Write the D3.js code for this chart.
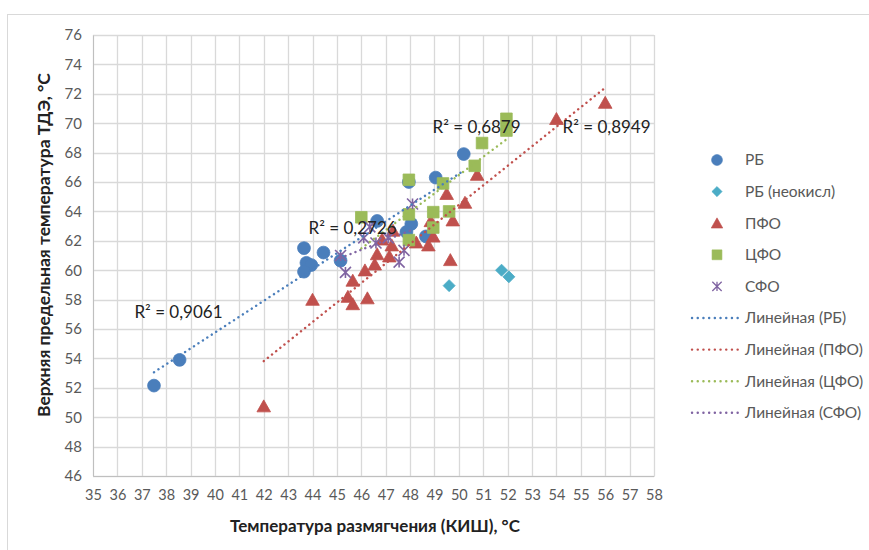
<!DOCTYPE html>
<html>
<head>
<meta charset="utf-8">
<script src="https://cdn.jsdelivr.net/npm/d3@7"></script>
<style>
  body { margin: 0; background: #fff; }
  svg text { font-family: Lato, "Open Sans", sans-serif; }
</style>
</head>
<body>
<svg id="chart" width="869" height="550"></svg>
<script>
// data
var seriesNames = ["РБ", "РБ (неокисл)", "ПФО", "ЦФО", "СФО"];

var rbX = [37.5, 38.55, 43.65, 43.75, 43.95, 43.65, 44.45, 45.15, 46.65, 47.95, 48.05, 47.85, 48.65, 49.05, 50.2];
var rbY = [52.15, 53.9, 61.5, 60.5, 60.35, 59.9, 61.2, 60.65, 63.35, 66.0, 63.15, 62.6, 62.3, 66.3, 67.9];

var rbnX = [49.6, 51.75, 52.05];
var rbnY = [58.95, 60.0, 59.55];

var pfoX = [42.0, 44.0, 45.45, 45.65, 45.65, 46.25, 46.15, 46.55, 46.65, 46.85, 47.15, 47.25, 47.3, 48.25, 48.75, 48.95, 48.85, 49.75, 49.65, 49.5, 50.25, 50.75, 54.0, 56.0];
var pfoY = [50.75, 58.0, 58.2, 57.7, 59.3, 58.1, 60.0, 60.4, 61.1, 62.1, 60.95, 61.7, 62.7, 61.9, 61.7, 62.3, 63.35, 63.4, 60.7, 65.2, 64.6, 66.5, 70.3, 71.4];

var cfoX = [46.0, 47.95, 47.95, 47.95, 48.95, 48.95, 49.35, 49.6, 50.65, 50.95, 51.95, 51.95];
var cfoY = [63.6, 66.15, 63.8, 62.05, 63.95, 62.9, 65.9, 64.0, 67.1, 68.65, 70.3, 69.5];

var sfoX = [45.15, 45.35, 46.1, 46.35, 46.6, 47.1, 47.55, 47.75, 48.1];
var sfoY = [61.0, 59.85, 62.2, 62.95, 61.85, 62.2, 60.55, 61.35, 64.5];

var trendNames = ["Линейная (РБ)", "Линейная (ПФО)", "Линейная (ЦФО)", "Линейная (СФО)"];
var r2Labels = ["R² = 0,9061", "R² = 0,8949", "R² = 0,6879", "R² = 0,2726"];

var xTicks = d3.range(35, 59, 1);
var yTicks = d3.range(46, 77, 2);

var xTitle = "Температура размягчения (КИШ), °С";
var yTitle = "Верхняя предельная температура ТДЭ, °С";

// ---------------------------------------------------------------
var svg = d3.select("svg#chart");

var plotL = 93, plotR = 654, plotT = 35, plotB = 476;

var x = d3.scaleLinear().domain([35, 58]).range([plotL, plotR]);
var y = d3.scaleLinear().domain([46, 76]).range([plotB, plotT]);

var colors = {
  rb: "#4a7ebb",
  rbn: "#4bacc6",
  pfo: "#c0504d",
  cfo: "#9bbb59",
  sfo: "#8064a2"
};

// outer chart border
svg.append("rect")
  .attr("x", 7.5).attr("y", 14.5)
  .attr("width", 880).attr("height", 560)
  .attr("fill", "none")
  .attr("stroke", "#d9d9d9");

// grid
svg.append("g").selectAll("line.v")
  .data(xTicks).enter().append("line")
  .attr("x1", function(d) { return Math.round(x(d)) + 0.5; })
  .attr("x2", function(d) { return Math.round(x(d)) + 0.5; })
  .attr("y1", plotT).attr("y2", plotB)
  .attr("stroke", "#d9d9d9").attr("stroke-width", 1.3);

svg.append("g").selectAll("line.h")
  .data(yTicks).enter().append("line")
  .attr("y1", function(d) { return Math.round(y(d)) + 0.5; })
  .attr("y2", function(d) { return Math.round(y(d)) + 0.5; })
  .attr("x1", plotL).attr("x2", plotR)
  .attr("stroke", "#d9d9d9").attr("stroke-width", 1.3);

// axes (labels only, Excel style)
var xAxis = d3.axisBottom(x).tickValues(xTicks).tickSize(0).tickPadding(14);
var gx = svg.append("g").attr("transform", "translate(0," + plotB + ")").call(xAxis);
gx.select(".domain").attr("stroke", "#bfbfbf");
gx.selectAll("text").attr("fill", "#595959").style("font-size", "14.5px");

var yAxis = d3.axisLeft(y).tickValues(yTicks).tickSize(0).tickPadding(11);
var gy = svg.append("g").attr("transform", "translate(" + plotL + ",0)").call(yAxis);
gy.select(".domain").attr("stroke", "#bfbfbf");
gy.selectAll("text").attr("fill", "#595959").style("font-size", "15px");

// axis titles
svg.append("text")
  .attr("x", 375).attr("y", 532)
  .attr("text-anchor", "middle")
  .style("font-weight", "bold").style("font-size", "17px")
  .attr("fill", "#222")
  .text(xTitle);

svg.append("text")
  .attr("transform", "translate(50,245) rotate(-90)")
  .attr("text-anchor", "middle")
  .style("font-weight", "bold").style("font-size", "17.5px")
  .attr("fill", "#222")
  .text(yTitle);

// markers
function markerPath(type, s) {
  s = s || 1;
  if (type == "circle") {
    var r = 6.4 * s;
    return "M" + (-r) + ",0A" + r + "," + r + " 0 1,0 " + r + ",0A" + r + "," + r + " 0 1,0 " + (-r) + ",0Z";
  }
  if (type == "diamond") {
    var a = 6 * s;
    return "M0," + (-a) + "L" + a + ",0L0," + a + "L" + (-a) + ",0Z";
  }
  if (type == "triangle") {
    var w = 6.8 * s;
    return "M0," + (-6.3 * s) + "L" + w + "," + (5.7 * s) + "L" + (-w) + "," + (5.7 * s) + "Z";
  }
  if (type == "square") {
    var h = 5.8 * s;
    return "M" + (-h) + "," + (-h) + "H" + h + "V" + h + "H" + (-h) + "Z";
  }
  // star: x plus vertical bar
  var k = 5.5 * s;
  return "M" + (-k) + "," + (-k) + "L" + k + "," + k +
         "M" + k + "," + (-k) + "L" + (-k) + "," + k +
         "M0," + (-k) + "L0," + k;
}

var series = [
  { xs: rbX,  ys: rbY,  type: "circle",   color: colors.rb },
  { xs: rbnX, ys: rbnY, type: "diamond",  color: colors.rbn },
  { xs: pfoX, ys: pfoY, type: "triangle", color: colors.pfo },
  { xs: cfoX, ys: cfoY, type: "square",   color: colors.cfo },
  { xs: sfoX, ys: sfoY, type: "star",     color: colors.sfo }
];

// least squares fit
function fit(xs, ys) {
  var mx = d3.mean(xs), my = d3.mean(ys);
  var sxy = 0, sxx = 0;
  for (var i = 0; i < xs.length; i++) {
    sxy += (xs[i] - mx) * (ys[i] - my);
    sxx += (xs[i] - mx) * (xs[i] - mx);
  }
  var b = sxy / sxx;
  return { b: b, a: my - b * mx, x0: d3.min(xs), x1: d3.max(xs) };
}

var trends = [
  { s: series[0], color: colors.rb },
  { s: series[2], color: colors.pfo },
  { s: series[3], color: colors.cfo },
  { s: series[4], color: colors.sfo }
];

function drawPoints(sr) {
  var pts = sr.xs.map(function(v, i) { return [v, sr.ys[i]]; });
  var g = svg.append("g");
  g.selectAll("path").data(pts).enter().append("path")
    .attr("transform", function(d) { return "translate(" + x(d[0]) + "," + y(d[1]) + ")"; })
    .attr("d", markerPath(sr.type))
    .attr("fill", sr.type == "star" ? "none" : sr.color)
    .attr("stroke", sr.color)
    .attr("stroke-width", sr.type == "star" ? 1.6 : 0.8);
}

series.forEach(drawPoints);

// trend lines drawn over markers
trends.forEach(function(t) {
  var f = fit(t.s.xs, t.s.ys);
  svg.append("line")
    .attr("x1", x(f.x0)).attr("y1", y(f.a + f.b * f.x0))
    .attr("x2", x(f.x1)).attr("y2", y(f.a + f.b * f.x1))
    .attr("stroke", t.color)
    .attr("stroke-width", 2.4)
    .attr("stroke-linecap", "round")
    .attr("stroke-dasharray", "0.1 5.2");
});

// R² labels (anchored in data units)
var r2Pos = [[36.7, 56.75], [54.25, 69.3], [48.92, 69.3], [43.84, 62.45]];
svg.append("g").selectAll("text")
  .data(r2Labels).enter().append("text")
  .attr("x", function(d, i) { return x(r2Pos[i][0]); })
  .attr("y", function(d, i) { return y(r2Pos[i][1]); })
  .attr("fill", "#222")
  .style("font-size", "17px")
  .text(function(d) { return d; });

// legend
var legendX = 717, legendY0 = 160, legendStep = 31.6;
var leg = svg.append("g");
series.forEach(function(sr, i) {
  var gy0 = legendY0 + i * legendStep;
  leg.append("path")
    .attr("transform", "translate(" + legendX + "," + gy0 + ")")
    .attr("d", markerPath(sr.type, 0.85))
    .attr("fill", sr.type == "star" ? "none" : sr.color)
    .attr("stroke", sr.color)
    .attr("stroke-width", sr.type == "star" ? 1.3 : 0.6);
  leg.append("text")
    .attr("x", 745).attr("y", gy0).attr("dy", "0.35em")
    .attr("fill", "#595959").style("font-size", "15.5px")
    .text(seriesNames[i]);
});
trends.forEach(function(t, i) {
  var gy0 = legendY0 + (i + 5) * legendStep;
  leg.append("line")
    .attr("x1", 692).attr("x2", 738)
    .attr("y1", gy0).attr("y2", gy0)
    .attr("stroke", t.color)
    .attr("stroke-width", 2.4)
    .attr("stroke-linecap", "round")
    .attr("stroke-dasharray", "0.1 5.6");
  leg.append("text")
    .attr("x", 745).attr("y", gy0).attr("dy", "0.35em")
    .attr("fill", "#595959").style("font-size", "15.5px")
    .text(trendNames[i]);
});
</script>
</body>
</html>
